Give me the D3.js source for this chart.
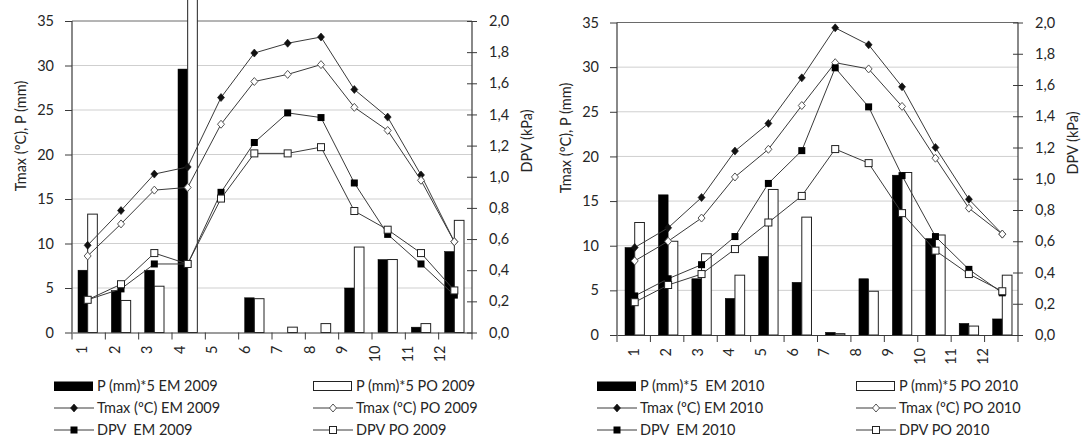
<!DOCTYPE html>
<html>
<head>
<meta charset="utf-8">
<script src="https://cdn.jsdelivr.net/npm/d3@7"></script>
<style>
  html, body { margin: 0; padding: 0; background: #fff; }
  svg { display: block; }
  text { font-family: Lato, "Noto Sans", sans-serif; fill: #262626; white-space: pre; }
</style>
</head>
<body>
<svg id="chart" width="1083" height="439"></svg>
<script>
// Months on the category axis
const months = ["1", "2", "3", "4", "5", "6", "7", "8", "9", "10", "11", "12"];

// Left axis ticks (Tmax ºC, P mm) and right axis ticks (DPV kPa)
const leftTicks = [0, 5, 10, 15, 20, 25, 30, 35];
const rightTicks = [0, 0.2, 0.4, 0.6, 0.8, 1.0, 1.2, 1.4, 1.6, 1.8, 2.0];

// 2009
const precipEM2009 = [7.0, 4.7, 7.0, 29.6, 0, 3.9, 0, 0, 5.0, 8.2, 0.6, 9.1];
const precipPO2009 = [13.3, 3.6, 5.2, 44, 0, 3.8, 0.6, 1.0, 9.6, 8.2, 1.0, 12.6];
const tmaxEM2009 = [9.8, 13.7, 17.8, 18.6, 26.4, 31.4, 32.5, 33.2, 27.3, 24.2, 17.7, 10.2];
const tmaxPO2009 = [8.6, 12.2, 16.0, 16.3, 23.4, 28.2, 29.0, 30.1, 25.3, 22.7, 17.1, 10.2];
const dpvEM2009 = [0.21, 0.28, 0.44, 0.44, 0.90, 1.22, 1.41, 1.38, 0.96, 0.63, 0.44, 0.24];
const dpvPO2009 = [0.21, 0.31, 0.51, 0.44, 0.86, 1.15, 1.15, 1.19, 0.78, 0.66, 0.51, 0.27];

// 2010
const precipEM2010 = [9.8, 15.7, 6.3, 4.1, 8.8, 5.9, 0.3, 6.3, 17.9, 10.8, 1.3, 1.8];
const precipPO2010 = [12.6, 10.5, 9.1, 6.7, 16.3, 13.2, 0.15, 4.9, 18.2, 11.2, 1.0, 6.7];
const tmaxEM2010 = [9.8, 12.0, 15.4, 20.6, 23.7, 28.8, 34.4, 32.5, 27.8, 21.0, 15.2, 11.3];
const tmaxPO2010 = [8.3, 10.5, 13.1, 17.7, 20.8, 25.7, 30.5, 29.8, 25.6, 19.8, 14.2, 11.3];
const dpvEM2010 = [0.25, 0.36, 0.45, 0.63, 0.97, 1.18, 1.71, 1.46, 1.02, 0.63, 0.42, 0.27];
const dpvPO2010 = [0.21, 0.32, 0.39, 0.55, 0.72, 0.89, 1.19, 1.10, 0.78, 0.54, 0.39, 0.28];

// Legend labels
const legend2009 = ["P (mm)*5 EM 2009", "P (mm)*5 PO 2009", "Tmax (\u00baC) EM 2009", "Tmax (\u00baC) PO 2009", "DPV  EM 2009", "DPV PO 2009"];
const legend2010 = ["P (mm)*5  EM 2010", "P (mm)*5 PO 2010", "Tmax (\u00baC) EM 2010", "Tmax (\u00baC) PO 2010", "DPV  EM 2010", "DPV PO 2010"];

const leftTitle = "Tmax (\u00baC), P (mm)";
const rightTitle = "DPV (kPa)";

const svg = d3.select("#chart");
svg.append("rect").attr("width", 1083).attr("height", 439).attr("fill", "#fff");

const commaFmt = d3.formatLocale({ decimal: ",", thousands: ".", grouping: [3], currency: ["", "€"] }).format(".1f");

const LINE = "#3a3a3a";
const FS = 14.5;

function marker(g, kind, cx, cy) {
  if (kind === "diamondFilled") {
    g.append("path").attr("d", `M${cx},${cy - 4}L${cx + 3.5},${cy}L${cx},${cy + 4}L${cx - 3.5},${cy}Z`)
      .attr("fill", "#111").attr("stroke", "#111").attr("stroke-width", 0.6);
  } else if (kind === "diamondOpen") {
    g.append("path").attr("d", `M${cx},${cy - 4}L${cx + 3.5},${cy}L${cx},${cy + 4}L${cx - 3.5},${cy}Z`)
      .attr("fill", "#fff").attr("stroke", "#555").attr("stroke-width", 1);
  } else if (kind === "squareFilled") {
    g.append("rect").attr("x", cx - 3.5).attr("y", cy - 3.5).attr("width", 7).attr("height", 7)
      .attr("fill", "#000");
  } else if (kind === "squareOpen") {
    g.append("rect").attr("x", cx - 3.5).attr("y", cy - 3.5).attr("width", 7).attr("height", 7)
      .attr("fill", "#fff").attr("stroke", "#222").attr("stroke-width", 1);
  }
}

function drawPanel(p) {
  const g = svg.append("g");
  const x = d3.scaleBand().domain(months).range([p.x0, p.x1]);
  const yL = d3.scaleLinear().domain([0, 35]).range([p.yBase, p.yTop]);
  const yR = d3.scaleLinear().domain([0, 2]).range([p.yBase, p.yTop]);
  const bw = x.bandwidth();
  const cx = m => x(m) + bw / 2 + p.shift;
  const barW = bw * 0.29;

  // gridlines
  g.append("g").selectAll("line").data(leftTicks.filter(t => t > 0)).join("line")
    .attr("x1", p.x0).attr("x2", p.x1)
    .attr("y1", d => yL(d)).attr("y2", d => yL(d))
    .attr("stroke", d => d === 35 ? "#6a6a6a" : "#cfcfcf").attr("stroke-width", 1);

  // precipitation bars
  g.append("g").selectAll("rect").data(months).join("rect")
    .attr("x", m => cx(m) - barW).attr("width", barW)
    .attr("y", (m, i) => yL(p.pEM[i])).attr("height", (m, i) => yL(0) - yL(p.pEM[i]))
    .attr("fill", "#000").attr("stroke", "#000").attr("stroke-width", 0.5);
  g.append("g").selectAll("rect").data(months).join("rect")
    .attr("x", m => cx(m)).attr("width", barW)
    .attr("y", (m, i) => yL(p.pPO[i])).attr("height", (m, i) => yL(0) - yL(p.pPO[i]))
    .attr("fill", "#fff").attr("stroke", "#222").attr("stroke-width", 1)
    .attr("display", (m, i) => p.pPO[i] > 0 ? null : "none");

  // axes
  const axL = g.append("g").attr("transform", `translate(${p.x0},0)`)
    .call(d3.axisLeft(yL).tickValues(leftTicks).tickSize(7).tickPadding(11).tickFormat(d3.format("d")));
  const axR = g.append("g").attr("transform", `translate(${p.x1},0)`)
    .call(d3.axisRight(yR).tickValues(rightTicks).tickSize(5).tickPadding(12).tickFormat(commaFmt));
  axR.selectAll(".tick line").attr("x1", -5);
  const axB = g.append("g").attr("transform", `translate(0,${p.yBase})`)
    .call(d3.axisBottom(x).tickSize(0).tickFormat(""));
  // category boundary ticks
  g.append("g").selectAll("line").data(months.concat(["end"])).join("line")
    .attr("x1", (m, i) => i < 12 ? x(m) : p.x1).attr("x2", (m, i) => i < 12 ? x(m) : p.x1)
    .attr("y1", p.yBase).attr("y2", p.yBase + 7)
    .attr("stroke", LINE);
  [axL, axR, axB].forEach(a => {
    a.selectAll(".domain").attr("stroke", LINE).attr("stroke-width", 1.2);
    a.selectAll(".tick line").attr("stroke", LINE);
    a.selectAll(".tick text").attr("font-size", FS).attr("fill", "#262626")
      .style("font-family", "Lato, 'Noto Sans', sans-serif");
  });
  axL.select(".domain").attr("d", `M0,${p.yTop}V${p.yBase}`);
  axR.select(".domain").attr("d", `M0,${p.yTop}V${p.yBase}`);

  // rotated month labels
  const lx = d3.scalePoint().domain(months).range([p.x0 + p.lab0, p.x1 - p.lab1]);
  g.append("g").selectAll("text").data(months).join("text")
    .attr("transform", m => `translate(${lx(m)},${p.yBase + 13}) rotate(-90)`)
    .attr("text-anchor", "end").attr("dy", "0.35em").attr("font-size", FS).text(m => m);

  // axis titles
  g.append("text").attr("transform", `translate(${p.x0 - 51},${p.ltY}) rotate(-90)`)
    .attr("text-anchor", "middle").attr("dy", "0.35em").attr("font-size", FS).text(leftTitle);
  g.append("text").attr("transform", `translate(${p.x1 + 55},${p.rtY}) rotate(-90)`)
    .attr("text-anchor", "middle").attr("dy", "0.35em").attr("font-size", FS).text(rightTitle);

  // series lines with markers
  const series = [
    { v: p.tEM, y: yL, kind: "diamondFilled" },
    { v: p.tPO, y: yL, kind: "diamondOpen" },
    { v: p.dEM, y: yR, kind: "squareFilled" },
    { v: p.dPO, y: yR, kind: "squareOpen" }
  ];
  series.forEach(s => {
    const line = d3.line().x((d, i) => cx(months[i])).y(d => s.y(d));
    g.append("path").datum(s.v).attr("d", line).attr("fill", "none")
      .attr("stroke", LINE).attr("stroke-width", 1);
    const mg = g.append("g");
    s.v.forEach((d, i) => marker(mg, s.kind, cx(months[i]), s.y(d)));
  });

  // legend
  const lg = g.append("g");
  const kinds = ["barFilled", "barOpen", "diamondFilled", "diamondOpen", "squareFilled", "squareOpen"];
  p.legend.forEach((label, i) => {
    const col = i % 2, row = Math.floor(i / 2);
    const sx = col === 0 ? p.legX0 : p.legX1;
    const sy = p.legY + row * 22;
    const k = kinds[i];
    if (k === "barFilled") {
      lg.append("rect").attr("x", sx).attr("y", sy - 4.5).attr("width", 39).attr("height", 9.5).attr("fill", "#000");
    } else if (k === "barOpen") {
      lg.append("rect").attr("x", sx + 0.5).attr("y", sy - 4.5).attr("width", 38).attr("height", 9).attr("fill", "#fff")
        .attr("stroke", "#222").attr("stroke-width", 1);
    } else {
      lg.append("line").attr("x1", sx).attr("x2", sx + 40).attr("y1", sy).attr("y2", sy)
        .attr("stroke", LINE).attr("stroke-width", 1);
      marker(lg, k, sx + 20, sy);
    }
    lg.append("text").attr("x", sx + 43).attr("y", sy).attr("dy", "0.35em").attr("font-size", FS).text(label);
  });
}

drawPanel({
  x0: 72, x1: 472, yTop: 21, yBase: 332.5, shift: -1,
  lab0: 10, lab1: 32, ltY: 136, rtY: 141,
  pEM: precipEM2009, pPO: precipPO2009, tEM: tmaxEM2009, tPO: tmaxPO2009, dEM: dpvEM2009, dPO: dpvPO2009,
  legend: legend2009, legX0: 54, legX1: 313, legY: 386
});

drawPanel({
  x0: 617, x1: 1018, yTop: 22.5, yBase: 335, shift: 1,
  lab0: 17, lab1: 35, ltY: 138, rtY: 143,
  pEM: precipEM2010, pPO: precipPO2010, tEM: tmaxEM2010, tPO: tmaxPO2010, dEM: dpvEM2010, dPO: dpvPO2010,
  legend: legend2010, legX0: 597, legX1: 856, legY: 386
});
</script>
</body>
</html>
